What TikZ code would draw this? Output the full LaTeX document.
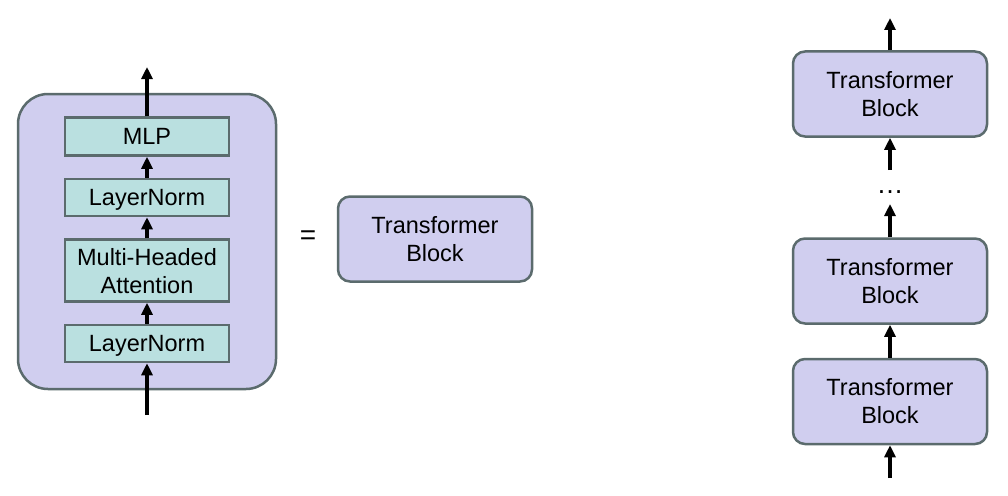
\documentclass[tikz,border=0pt]{standalone}
\usepackage{fontspec}
\setmainfont{Liberation Sans}
\usetikzlibrary{arrows.meta,positioning}

\definecolor{blockfill}{HTML}{D0CEEF}
\definecolor{layerfill}{HTML}{BAE0E0}
\definecolor{edgegray}{HTML}{5B6B6D}

\begin{document}
\begin{tikzpicture}[
  x=1pt, y=-1pt,
  font=\fontsize{23.5}{28}\selectfont,
  outer/.style={
    draw=edgegray,
    fill=blockfill,
    line width=2.5pt,
    rounded corners=30pt,
    minimum width=258pt,
    minimum height=295pt
  },
  layer/.style={
    draw=edgegray,
    fill=layerfill,
    line width=2.5pt,
    align=center,
    inner sep=0pt,
    text depth=0pt,
    minimum width=164pt
  },
  tblock/.style={
    draw=edgegray,
    fill=blockfill,
    line width=2.5pt,
    rounded corners=12pt,
    align=center,
    inner sep=0pt,
    minimum width=194pt,
    minimum height=85pt
  },
  arrow/.style={-{Triangle[length=12pt,width=11pt]}, line width=3.6pt}
]
\useasboundingbox (0,0) rectangle (1008,495);

% left: inside of one block
\node[outer] (block) at (147,241.5) {};
\node[layer, minimum height=37pt] (ln1) at (147,343.5) {LayerNorm};
\node[layer, minimum height=62pt, above=21pt of ln1] (attn) {Multi-Headed\\Attention};
\node[layer, minimum height=37pt, above=21pt of attn] (ln2) {LayerNorm};
\node[layer, minimum height=38pt, above=21pt of ln2] (mlp) {MLP};
\coordinate (in) at (147,415);
\coordinate (out) at (147,67);

\draw[arrow] (in) -- (ln1.south);
\draw[arrow] (ln1.north) -- (attn.south);
\draw[arrow] (attn.north) -- (ln2.south);
\draw[arrow] (ln2.north) -- (mlp.south);
\draw[arrow] (mlp.north) -- (out);

% middle
\node[font=\fontsize{28}{30}\selectfont] (eq) at (308,238) {=};
\node[tblock] (tb) at (435,239) {Transformer\\Block};

% right: stack of blocks
\node[tblock] (tb1) at (890,401.5) {Transformer\\Block};
\node[tblock, above=33pt of tb1] (tb2) {Transformer\\Block};
\node[tblock] (tb3) at (890,94) {Transformer\\Block};
\node[font=\fontsize{27}{30}\selectfont] (dots) at (890,192) {\dots};
\coordinate (sin) at (890,478);
\coordinate (d1) at (890,204);
\coordinate (d2) at (890,170);
\coordinate (sout) at (890,18);

\draw[arrow] (sin) -- (tb1.south);
\draw[arrow] (tb1.north) -- (tb2.south);
\draw[arrow] (tb2.north) -- (d1);
\draw[arrow] (d2) -- (tb3.south);
\draw[arrow] (tb3.north) -- (sout);

\end{tikzpicture}
\end{document}
